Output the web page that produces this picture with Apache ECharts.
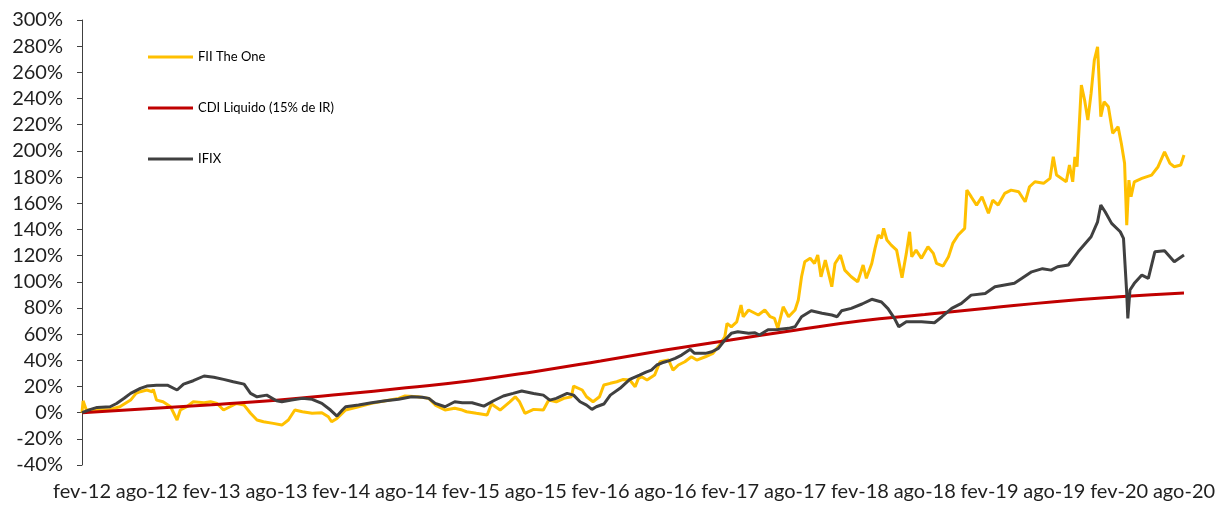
<!DOCTYPE html>
<html>
<head>
<meta charset="utf-8">
<style>
  html, body { margin: 0; padding: 0; background: #fff; }
  #chart { width: 1219px; height: 508px; }
</style>
<script src="https://cdn.jsdelivr.net/npm/echarts@6/dist/echarts.min.js"></script>
</head>
<body>
<div id="chart"></div>
<script>
// x = months elapsed since fev-12, y = accumulated return (%)
const tickLabels = ['fev-12','ago-12','fev-13','ago-13','fev-14','ago-14','fev-15','ago-15','fev-16',
                    'ago-16','fev-17','ago-17','fev-18','ago-18','fev-19','ago-19','fev-20','ago-20'];

const seriesNames = ['FII The One', 'CDI Liquido (15% de IR)', 'IFIX'];

const fiiTheOne = [
  [0,0],[0.1,9],[0.4,2],[1.4,2],[2.6,2.5],[3.5,4.5],[4.5,9.6],[5,14.7],[5.4,16],[6,17.3],[6.5,16],[6.6,17.8],
  [6.9,9.6],[7.5,8.3],[8.2,4.5],[8.8,-5.6],[9.1,2],[9.7,4.5],[10.3,8.3],[11.3,7.6],[11.9,8.3],[12.5,7],
  [13.1,2],[13.7,4.5],[14.3,7],[15,5.8],[15.6,-0.5],[16.2,-5.6],[16.8,-7],[17.7,-8.2],[18.5,-9.5],[19.1,-5.6],
  [19.7,2],[20.4,0.7],[21.3,-0.5],[22.2,0],[22.8,-3.1],[23.1,-7],[23.6,-4.4],[24.4,2],[25.6,4.5],[26.8,7.1],
  [28.1,9.1],[29.3,10.9],[29.9,12.7],[31.1,12.1],[32.1,10.9],[32.7,5.8],[33.6,2],[34.5,3.3],[35.2,2],[35.6,0.7],
  [36.5,-0.5],[37.5,-1.8],[37.9,6.6],[38.7,2],[39.6,8.3],[40.1,12.1],[40.5,8.3],[41,-0.5],[41.8,2.5],[42.7,2],
  [43.2,9.6],[43.9,8.3],[44.6,10.9],[45.3,12.1],[45.5,20.3],[46.3,17.3],[46.7,12.1],[47.3,8.3],[47.9,12.1],
  [48.3,21.1],[48.9,22.4],[49.5,23.6],[50.1,25.4],[50.7,24.9],[51.2,19.8],[51.5,26.2],[51.8,27.4],[52.3,24.9],
  [53,28.7],[53.5,38.9],[54.3,40.2],[54.7,32.5],[55.2,36.4],[55.8,38.9],[56.4,42.7],[56.9,40.2],[57.7,42.7],
  [58.4,45.3],[59,51.6],[59.5,58],[59.7,68.2],[60.1,65.6],[60.6,69.4],[61,82.2],[61.2,73.3],[61.7,78.4],
  [62.6,74.6],[63.2,78.4],[63.7,73.3],[64.1,72],[64.4,64.4],[64.9,80.9],[65.4,73.3],[66,78.4],[66.3,86],
  [66.6,103.8],[66.9,115.3],[67.4,117.9],[67.8,114],[68.1,120.4],[68.4,103.8],[68.8,116.6],[69.1,106.4],
  [69.4,96.2],[69.7,114],[70.2,120.4],[70.6,108.9],[71.2,103.8],[71.8,100],[72.3,112.8],[72.6,102.6],
  [73.1,114],[73.4,125.5],[73.7,135.7],[74,133.2],[74.2,140.8],[74.5,131.9],[74.9,128],[75.4,124.2],
  [75.9,103],[76.3,121.7],[76.6,138.2],[76.8,119.1],[77.2,124.2],[77.7,117.9],[78.3,126.7],[78.8,121.7],
  [79.1,114],[79.7,112],[80.2,119.1],[80.6,129.3],[81.1,135.7],[81.7,140.8],[81.9,170],[82.3,165],
  [82.8,158.6],[83.3,165],[83.9,152.3],[84.3,162.4],[84.8,158.6],[85.4,167.5],[86,170],[86.7,168.8],
  [87.3,161.1],[87.7,172.6],[88.2,176.4],[89,175.2],[89.6,179],[89.9,195.5],[90.2,181.5],[91.1,176.4],
  [91.4,189.2],[91.7,176.4],[91.9,195.5],[92.1,187.9],[92.5,250.3],[92.8,238.8],[93.1,223.5],[93.4,243.9],
  [93.7,269.4],[94,279.5],[94.3,226.1],[94.6,237.5],[95,233.7],[95.4,213.4],[95.9,218.4],[96.2,205.7],
  [96.5,190.5],[96.7,143.3],[96.9,177.7],[97.1,165],[97.4,176.4],[98.1,179],[99,181.5],[99.6,187.9],
  [100.2,199.3],[100.7,190.5],[101.1,187.9],[101.7,189.2],[102,196.8]
];

const cdiLiquido = [
  [0,0],[6,3],[12,6],[18,9.5],[24,14],[30,19],[36,24.4],[42,31.5],[48,39.5],[54,47.8],
  [60,55.5],[66,63],[72,70],[78,75],[84,80],[90,84.8],[96,88.5],[102,91.5]
];

const ifix = [
  [0,0],[0.8,2.5],[1.4,4],[2.6,4.5],[3.2,7],[3.9,11],[4.5,14.7],[5.4,18.5],[6,20.3],[6.9,21],[7.9,21],
  [8.8,17.3],[9.4,21.8],[10.3,24.4],[11.3,28],[12.2,27],[13.1,25.4],[14,23.6],[15,21.8],[15.6,14.7],
  [16.2,12.1],[17.1,13.4],[18,9.1],[18.5,8.3],[19.4,9.6],[20.4,10.9],[21.3,10.2],[22.2,7.1],[23,2],
  [23.6,-2.6],[24.1,2],[24.4,4.5],[25.6,5.8],[26.8,7.6],[28.1,9.1],[29.3,10.2],[30.5,12.1],[31.5,11.7],
  [32.1,10.9],[32.7,7.1],[33.6,4.5],[34.5,8.3],[35.2,7.6],[36.1,7.6],[37.2,5],[38.1,9.1],[39,12.7],
  [39.9,14.7],[40.7,16.5],[41.8,14.7],[42.7,13.4],[43.3,9.6],[43.9,10.9],[44.9,14.7],[45.5,13.4],[46.1,8.3],
  [46.7,5.8],[47.2,2.5],[47.6,4.5],[48.3,6.6],[48.9,13.4],[49.8,18.6],[50.7,25.4],[51.6,28.7],[52.2,31],
  [52.7,32.5],[53.2,36.4],[53.7,38.1],[54.3,39.6],[54.9,41.5],[55.5,44],[56.3,48.4],[56.7,45.3],[57.7,45.3],
  [58.3,46.5],[58.9,49.1],[59.5,55.5],[60.1,60.6],[60.7,61.8],[61.7,60.6],[62.3,61],[62.7,59.3],[63.5,63.3],
  [64.4,63.6],[65.4,64.4],[66,65.6],[66.6,73.3],[67.5,77.8],[68.5,75.9],[69.4,74.6],[69.9,73.3],[70.3,77.8],
  [71.2,79.7],[72.2,83],[73.1,86.6],[74,84.5],[74.6,79.5],[75.2,72],[75.6,65.6],[76.3,69.4],[77.7,69.4],
  [78.9,68.7],[79.6,73.3],[80.5,79.7],[81.4,83.5],[82.3,89.8],[83.6,91.1],[84.5,96.2],[85.4,97.5],
  [86.3,98.8],[87,102.6],[87.9,107.6],[88.9,110],[89.7,108.9],[90.3,111.5],[91.3,112.8],[92.2,122.9],
  [93.4,134.4],[94,145.8],[94.3,158.6],[94.7,153.5],[95.3,144.6],[96.1,138.2],[96.4,133.2],[96.7,91.1],
  [96.8,72],[97,93.7],[97.4,98.8],[98.1,105.1],[98.7,102.6],[99.3,122.9],[100.2,123.7],[101.1,115.3],
  [102,120.4]
];

const colors = ['#FFC000', '#C00000', '#404040'];
const font = 'Lato, "Open Sans", sans-serif';

const chart = echarts.init(document.getElementById('chart'), null, { renderer: 'canvas' });

function lineSeries(name, data, color, smooth) {
  return {
    name: name,
    type: 'line',
    data: data,
    showSymbol: false,
    symbol: 'none',
    smooth: smooth,
    lineStyle: { color: color, width: 3 },
    itemStyle: { color: color },
    animation: false
  };
}

chart.setOption({
  backgroundColor: '#ffffff',
  grid: { left: 82, right: 35, top: 20, bottom: 43 },
  legend: {
    orient: 'vertical',
    left: 148,
    top: 50,
    padding: 0,
    icon: 'rect',
    itemWidth: 45,
    itemHeight: 3,
    itemGap: 37,
    data: seriesNames,
    textStyle: { fontFamily: font, fontSize: 13, color: '#000', lineHeight: 14 }
  },
  xAxis: {
    type: 'value',
    min: 0,
    max: 102,
    interval: 6,
    axisLine: { show: false, onZero: false },
    axisTick: { show: false },
    splitLine: { show: false },
    axisLabel: {
      margin: 17,
      fontFamily: font,
      fontSize: 20,
      color: '#1f1f1f',
      showMinLabel: true,
      showMaxLabel: true,
      formatter: function (v) { return tickLabels[Math.round(v / 6)] || ''; }
    }
  },
  yAxis: {
    type: 'value',
    min: -40,
    max: 300,
    interval: 20,
    axisLine: { show: true, lineStyle: { color: '#404040', width: 1 } },
    axisTick: { show: true, length: 5, lineStyle: { color: '#404040' } },
    splitLine: { show: false },
    axisLabel: {
      margin: 19,
      fontFamily: font,
      fontSize: 20,
      color: '#1f1f1f',
      formatter: '{value}%'
    }
  },
  series: [
    lineSeries(seriesNames[0], fiiTheOne, colors[0], false),
    lineSeries(seriesNames[1], cdiLiquido, colors[1], true),
    lineSeries(seriesNames[2], ifix, colors[2], false)
  ]
});
</script>
</body>
</html>
